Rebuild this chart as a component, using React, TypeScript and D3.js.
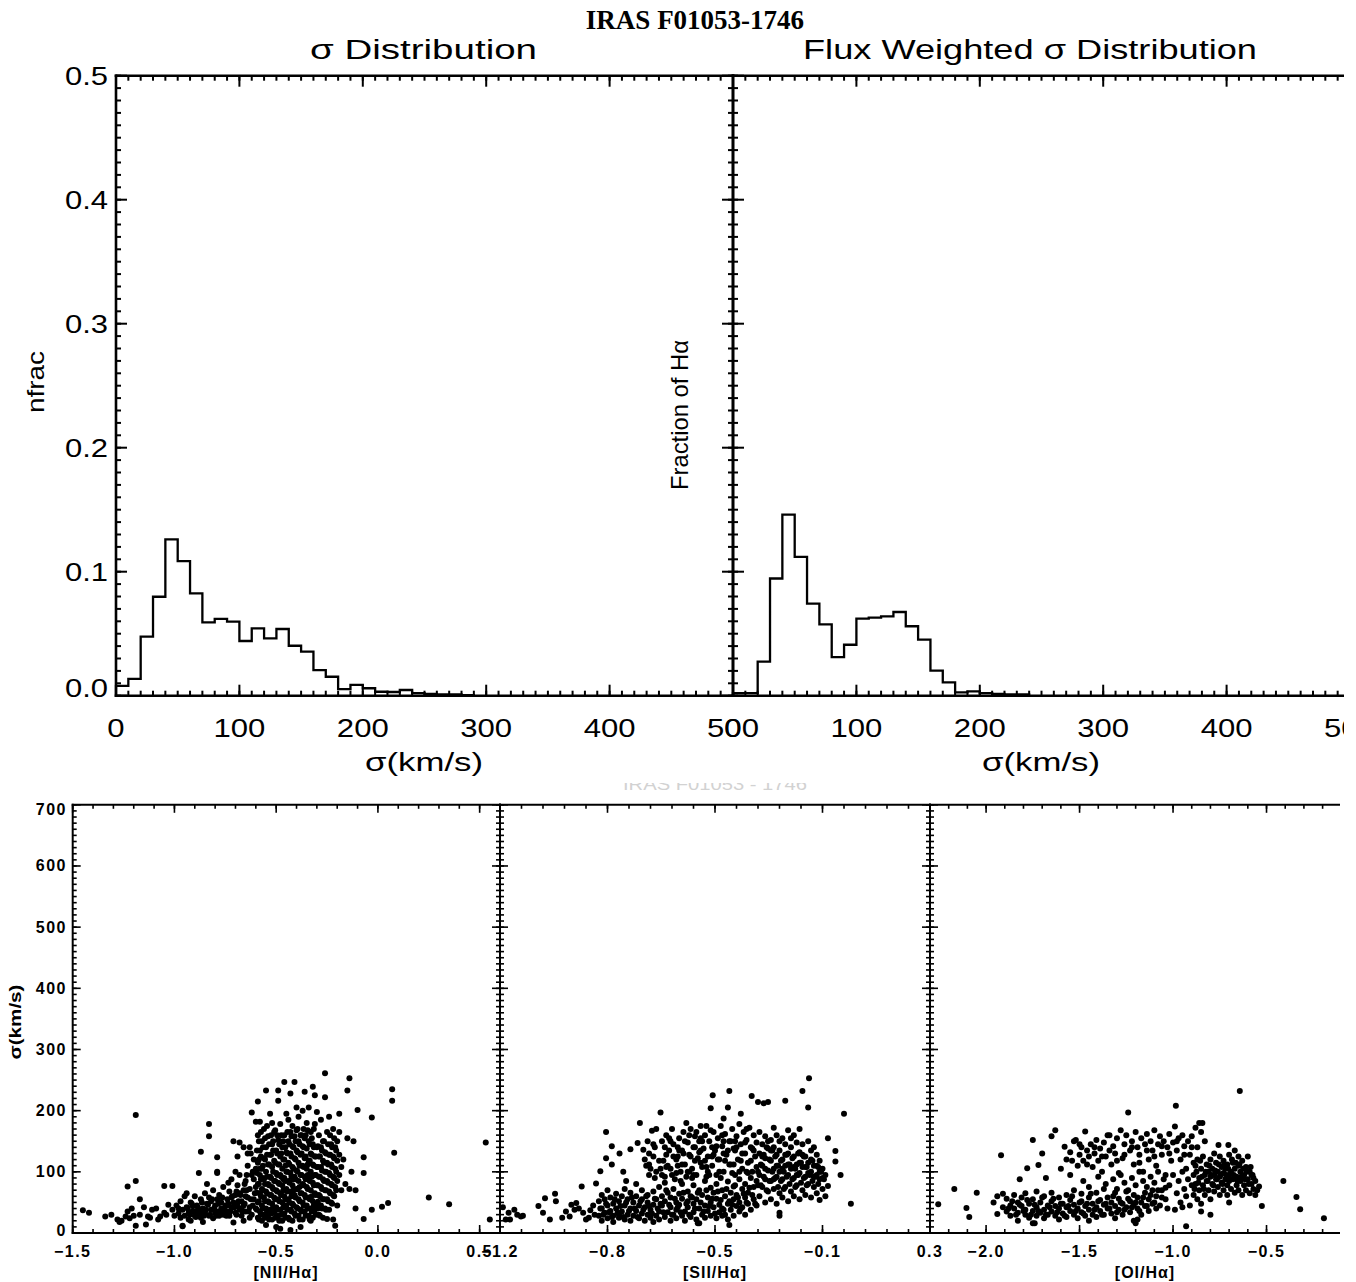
import React from "react";
import * as d3 from "d3";

// ---------------- DATA ----------------
const binWidth = 10; // km/s
const sigmaHist = [0.008, 0.0135, 0.0476, 0.0798, 0.126, 0.1086, 0.0826, 0.0592, 0.0619, 0.0597, 0.0441, 0.0543, 0.0463, 0.0538, 0.0403, 0.0355, 0.0207, 0.0153, 0.0053, 0.0087, 0.006, 0.0032, 0.003, 0.0046, 0.002, 0.0015, 0.001, 0.001, 0.0005];
const fluxHist = [0.002, 0.002, 0.0274, 0.0945, 0.146, 0.112, 0.0743, 0.0575, 0.0311, 0.0411, 0.0621, 0.0629, 0.064, 0.0675, 0.056, 0.0452, 0.0202, 0.0108, 0.0027, 0.0035, 0.002, 0.0015, 0.001, 0.001];
const histXTicks = [0, 100, 200, 300, 400, 500];
const histYTicks = [0, 0.1, 0.2, 0.3, 0.4, 0.5];
const histYTickLabels = ["0.0", "0.1", "0.2", "0.3", "0.4", "0.5"];

const scatterYTicks = [0, 100, 200, 300, 400, 500, 600, 700];
const niiTicks = [-1.5, -1.0, -0.5, 0.0, 0.5];
const niiTickLabels = ["\u22121.5", "\u22121.0", "\u22120.5", "0.0", "0.5"];
const siiTicks = [-1.2, -0.825, -0.45, -0.075, 0.3];
const siiTickLabels = ["\u22121.2", "\u22120.8", "\u22120.5", "\u22120.1", "0.3"];
const oiTicks = [-2.0, -1.5, -1.0, -0.5];
const oiTickLabels = ["\u22122.0", "\u22121.5", "\u22121.0", "\u22120.5"];

const niiPoints: [number, number][] = [
  [-1.45,37],[-1.42,33],[-1.34,27],[-1.31,30],[-1.28,22],[-1.26,20],[-1.24,27],[-1.22,24],[-1.2,28],[-1.19,12],[-1.17,30],[-1.15,42],[-1.14,14],[-1.13,27],[-1.11,38],[-1.09,40],[-1.08,22],[-1.07,27],[-1.05,33],[-1.04,30],[-1.03,46],[-1.01,38],[-1.0,28],[-1.19,193],[-1.19,85],[-1.23,76],[-1.23,35],[-1.17,55],[-1.12,25],[-1.05,77],[-1.27,18],[-1.21,40],
  [-0.99,45],[-0.98,32],[-0.97,25],[-0.97,52],[-0.96,38],[-0.95,28],[-0.95,60],[-0.94,42],[-0.93,33],[-0.93,22],[-0.92,50],[-0.91,36],[-0.9,28],[-0.9,60],[-0.89,45],[-0.88,30],[-0.88,98],[-0.87,55],[-0.87,25],[-0.86,40],[-0.85,65],[-0.85,33],[-0.84,48],[-0.83,28],[-0.83,58],[-0.82,38],[-0.81,70],[-0.81,24],[-0.8,45],[-0.8,33],[-0.79,55],[-0.78,28],[-0.78,62],[-0.77,40],[-0.77,50],[-0.76,30],[-0.76,75],[-0.75,45],[-0.92,20],[-0.86,18],[-0.96,12],[-0.84,80],[-0.79,100],[-0.94,65],[-0.89,35],[-0.82,52],[-0.79,35],[-0.91,44],[-0.87,38],[-0.98,40],[-0.83,178],[-0.87,133],[-0.83,158],[-1.01,77],[-0.96,11],
  [-0.935,40],[-0.925,30],[-0.915,48],[-0.905,35],[-0.895,26],[-0.885,42],[-0.875,33],[-0.865,50],[-0.855,28],[-0.845,38],[-0.835,46],[-0.825,30],[-0.815,55],[-0.805,40],[-0.795,28],[-0.785,48],[-0.775,35],[-0.765,58],[-0.755,38],[-0.745,28],[-0.735,48],[-0.725,35],[-0.715,60],[-0.705,42],[-0.695,30],[-0.685,52],[-0.675,62],[-0.665,35],[-0.655,48],[-0.645,70],[-0.635,35],[-0.625,55],[-0.615,45],[-0.605,65],[-0.655,80],[-0.695,68],[-0.735,82],[-0.615,100],[-0.625,130],[-0.645,95],
  [-0.74,35],[-0.74,55],[-0.73,28],[-0.73,68],[-0.72,42],[-0.72,88],[-0.71,50],[-0.71,17],[-0.71,150],[-0.7,33],[-0.7,62],[-0.69,45],[-0.69,78],[-0.68,38],[-0.68,95],[-0.67,52],[-0.67,28],[-0.66,70],[-0.66,45],[-0.65,35],[-0.65,85],[-0.64,58],[-0.64,110],[-0.63,42],[-0.63,72],[-0.62,30],[-0.62,95],[-0.61,55],[-0.61,120],[-0.6,40],[-0.6,75],[-0.62,197],[-0.63,140],[-0.66,20],[-0.69,125],[-0.72,58],[-0.68,65],[-0.7,48],[-0.65,60],[-0.61,88],[-0.74,45],[-0.67,40],[-0.63,25],[-0.6,105],[-0.64,130],[-0.7,100],[-0.68,148],[-0.66,140],[-0.6,182],[-0.79,98],[-0.79,124],
  [-0.59,25],[-0.59,50],[-0.59,80],[-0.59,115],[-0.59,160],[-0.58,35],[-0.58,65],[-0.58,95],[-0.58,135],[-0.58,182],[-0.57,20],[-0.57,45],[-0.57,72],[-0.57,105],[-0.57,150],[-0.56,30],[-0.56,58],[-0.56,88],[-0.56,122],[-0.56,170],[-0.55,40],[-0.55,68],[-0.55,100],[-0.55,140],[-0.55,13],[-0.54,28],[-0.54,52],[-0.54,80],[-0.54,112],[-0.54,158],[-0.53,38],[-0.53,62],[-0.53,92],[-0.53,128],[-0.53,195],[-0.52,22],[-0.52,48],[-0.52,75],[-0.52,108],[-0.52,145],[-0.51,33],[-0.51,58],[-0.51,85],[-0.51,118],[-0.51,165],[-0.5,42],[-0.5,70],[-0.5,98],[-0.5,135],[-0.5,10],[-0.49,28],[-0.49,55],[-0.49,82],[-0.49,112],[-0.49,152],[-0.48,38],[-0.48,65],[-0.48,95],[-0.48,125],[-0.48,178],[-0.47,20],[-0.47,50],[-0.47,78],[-0.47,105],[-0.47,140],[-0.46,32],[-0.46,60],[-0.46,90],[-0.46,120],[-0.46,160],[-0.45,45],[-0.45,72],[-0.45,100],[-0.45,132],[-0.45,195],
  [-0.575,125],[-0.555,80],[-0.535,145],[-0.515,100],[-0.495,130],[-0.475,160],[-0.455,110],[-0.585,150],[-0.565,90],[-0.545,65],[-0.525,160],[-0.505,55],[-0.485,145],[-0.465,70],[-0.59,215],[-0.55,233],[-0.49,216],[-0.49,233],[-0.46,247],[-0.52,180],[-0.58,105],[-0.48,7],
  [-0.595,38],[-0.595,66],[-0.595,98],[-0.595,135],[-0.585,22],[-0.585,52],[-0.585,80],[-0.585,120],[-0.575,30],[-0.575,60],[-0.575,88],[-0.575,165],[-0.565,40],[-0.565,70],[-0.565,110],[-0.565,140],[-0.555,25],[-0.555,52],[-0.555,120],[-0.555,155],[-0.545,35],[-0.545,92],[-0.545,128],[-0.545,175],[-0.535,22],[-0.535,50],[-0.535,78],[-0.535,112],[-0.525,32],[-0.525,62],[-0.525,90],[-0.525,128],[-0.515,42],[-0.515,72],[-0.515,135],[-0.515,150],[-0.505,25],[-0.505,85],[-0.505,115],[-0.505,168],[-0.495,38],[-0.495,68],[-0.495,95],[-0.495,160],[-0.485,20],[-0.485,52],[-0.485,80],[-0.485,112],[-0.475,30],[-0.475,62],[-0.475,92],[-0.475,130],[-0.465,42],[-0.465,88],[-0.465,120],[-0.465,150],[-0.455,25],[-0.455,55],[-0.455,85],[-0.455,140],
  [-0.445,38],[-0.445,68],[-0.445,130],[-0.445,165],[-0.435,22],[-0.435,50],[-0.435,82],[-0.435,112],[-0.425,35],[-0.425,92],[-0.425,125],[-0.425,158],[-0.415,45],[-0.415,70],[-0.415,105],[-0.415,140],[-0.405,28],[-0.405,58],[-0.405,88],[-0.405,150],[-0.395,40],[-0.395,72],[-0.395,100],[-0.395,132],[-0.385,22],[-0.385,52],[-0.385,110],[-0.385,145],[-0.375,35],[-0.375,65],[-0.375,95],[-0.375,160],[-0.365,45],[-0.365,78],[-0.365,108],[-0.365,140],[-0.355,28],[-0.355,58],[-0.355,88],[-0.355,125],[-0.345,40],[-0.345,72],[-0.345,112],[-0.345,168],[-0.335,22],[-0.335,55],[-0.335,85],[-0.335,118],[-0.325,35],[-0.325,92],[-0.325,128],[-0.325,155],[-0.315,45],[-0.315,78],[-0.315,140],[-0.315,170],[-0.305,30],[-0.305,62],[-0.305,95],[-0.305,125],
  [-0.44,25],[-0.44,55],[-0.44,85],[-0.44,115],[-0.44,150],[-0.44,185],[-0.43,38],[-0.43,68],[-0.43,98],[-0.43,130],[-0.43,165],[-0.43,228],[-0.42,20],[-0.42,48],[-0.42,78],[-0.42,108],[-0.42,142],[-0.42,175],[-0.41,32],[-0.41,62],[-0.41,92],[-0.41,122],[-0.41,158],[-0.41,247],[-0.4,42],[-0.4,72],[-0.4,102],[-0.4,135],[-0.4,168],[-0.4,205],[-0.39,28],[-0.39,55],[-0.39,85],[-0.39,115],[-0.39,150],[-0.39,190],[-0.38,38],[-0.38,65],[-0.38,95],[-0.38,128],[-0.38,160],[-0.38,10],[-0.37,22],[-0.37,50],[-0.37,80],[-0.37,110],[-0.37,142],[-0.37,200],[-0.36,35],[-0.36,62],[-0.36,92],[-0.36,122],[-0.36,155],[-0.36,231],[-0.35,45],[-0.35,75],[-0.35,105],[-0.35,138],[-0.35,180],[-0.34,28],[-0.34,58],[-0.34,88],[-0.34,118],[-0.34,150],[-0.34,205],[-0.33,40],[-0.33,70],[-0.33,100],[-0.33,130],[-0.33,165],[-0.32,25],[-0.32,52],[-0.32,82],[-0.32,112],[-0.32,145],[-0.32,239],[-0.31,38],[-0.31,65],[-0.31,95],[-0.31,125],[-0.31,178],[-0.31,225],[-0.3,48],[-0.3,78],[-0.3,108],[-0.3,140],[-0.3,198],
  [-0.435,145],[-0.415,88],[-0.395,170],[-0.375,130],[-0.355,160],[-0.335,145],[-0.315,110],[-0.425,60],[-0.405,120],[-0.385,75],[-0.365,170],[-0.345,95],[-0.325,60],[-0.445,100],[-0.33,20],[-0.43,5],[-0.295,51],[-0.32,39],
  [-0.295,40],[-0.295,78],[-0.295,108],[-0.295,142],[-0.285,28],[-0.285,60],[-0.285,92],[-0.285,125],[-0.275,40],[-0.275,72],[-0.275,102],[-0.275,135],[-0.265,55],[-0.265,85],[-0.265,115],[-0.265,150],[-0.255,38],[-0.255,70],[-0.255,100],[-0.255,130],[-0.245,52],[-0.245,82],[-0.245,112],[-0.245,145],[-0.235,65],[-0.235,95],[-0.235,128],[-0.235,160],[-0.225,48],[-0.225,78],[-0.225,108],[-0.225,140],[-0.215,60],[-0.215,90],[-0.215,122],[-0.215,155],[-0.205,70],[-0.205,100],[-0.205,135],
  [-0.29,30],[-0.29,62],[-0.29,92],[-0.29,125],[-0.29,160],[-0.28,45],[-0.28,75],[-0.28,108],[-0.28,140],[-0.28,185],[-0.27,25],[-0.27,55],[-0.27,88],[-0.27,118],[-0.27,150],[-0.26,40],[-0.26,70],[-0.26,100],[-0.26,132],[-0.26,261],[-0.26,222],[-0.25,55],[-0.25,85],[-0.25,115],[-0.25,165],[-0.25,23],[-0.24,38],[-0.24,68],[-0.24,98],[-0.24,128],[-0.24,190],[-0.23,50],[-0.23,80],[-0.23,112],[-0.23,145],[-0.22,62],[-0.22,92],[-0.22,125],[-0.22,170],[-0.22,22],[-0.21,75],[-0.21,105],[-0.21,140],[-0.21,12],[-0.2,85],[-0.2,118],[-0.2,150],[-0.2,45],[-0.19,95],[-0.19,128],[-0.19,195],[-0.19,165],[-0.18,108],[-0.18,70],
  [-0.17,120],[-0.16,80],[-0.15,233],[-0.15,155],[-0.14,253],[-0.14,72],[-0.13,100],[-0.12,150],[-0.11,40],[-0.11,70],[-0.1,201],[-0.07,124],[-0.07,98],[-0.07,23],[-0.03,189],[-0.03,38],[0.02,43],[0.05,49],[0.07,235],[0.07,216],[0.08,131],[0.25,58],[0.35,47],[0.53,148],[0.55,22]
];

const siiPoints: [number, number][] = [
  [-1.19,42],[-1.18,22],[-1.17,33],[-1.165,22],[-1.15,38],[-1.14,30],[-1.127,27],[-1.12,28],[-1.066,44],[-1.05,33],[-1.043,57],[-1.026,22],[-1.008,64],[-1.005,52],[-0.983,25],[-0.97,35],[-0.957,27],[-0.951,46],[-0.94,38],[-0.934,49],[-0.925,40],[-0.915,76],[-0.91,33],[-0.9,22],[-0.89,25],[-0.885,37],[-0.875,45],[-0.865,81],[-0.87,30],
  [-0.855,28],[-0.855,52],[-0.845,20],[-0.845,40],[-0.845,62],[-0.835,33],[-0.835,55],[-0.825,24],[-0.825,45],[-0.825,70],[-0.815,36],[-0.815,58],[-0.805,18],[-0.805,28],[-0.805,48],[-0.795,40],[-0.795,64],[-0.785,25],[-0.785,52],[-0.785,30],[-0.775,35],[-0.775,60],[-0.765,22],[-0.765,45],[-0.765,72],[-0.755,30],[-0.755,55],[-0.745,40],[-0.745,20],[-0.745,66],[-0.735,28],[-0.735,50],[-0.725,36],[-0.725,60],[-0.725,80],[-0.715,24],[-0.715,45],[-0.705,32],[-0.705,55],[-0.705,70],[-0.695,20],[-0.695,42],[-0.685,30],[-0.685,62],[-0.685,50],[-0.675,38],[-0.675,25],[-0.665,46],[-0.665,68],[-0.665,18],[-0.655,28],[-0.655,55],[-0.645,35],[-0.645,75],[-0.645,22],[-0.635,45],[-0.635,60],[-0.625,26],[-0.625,52],[-0.625,82],[-0.615,34],[-0.615,66],[-0.605,20],[-0.605,42],[-0.605,58],[-0.595,30],[-0.595,72],[-0.585,38],[-0.585,50],[-0.585,24],[-0.575,46],[-0.575,64],[-0.565,28],[-0.565,56],[-0.565,80],[-0.555,35],[-0.555,20],[-0.545,42],[-0.545,68],[-0.545,52],[-0.535,26],[-0.535,60],[-0.525,34],[-0.525,48],[-0.525,78],[-0.515,22],[-0.515,55],[-0.505,40],[-0.505,70],[-0.505,16],[-0.495,30],[-0.495,62],[-0.485,45],[-0.485,25],[-0.485,85],[-0.475,36],[-0.475,58],[-0.465,28],[-0.465,50],[-0.465,74],[-0.455,42],[-0.455,66],[-0.445,24],[-0.445,56],[-0.445,80],[-0.435,34],[-0.435,46],[-0.425,40],[-0.425,70],[-0.425,28],[-0.415,30],[-0.415,60],[-0.405,48],[-0.405,22],[-0.405,84],[-0.395,38],[-0.395,66],[-0.385,28],[-0.385,55],[-0.385,76],[-0.375,44],[-0.375,62],[-0.365,35],[-0.365,88],[-0.365,50],[-0.355,42],[-0.355,72],[-0.345,30],[-0.345,58],[-0.345,80],[-0.335,48],[-0.335,66],[-0.325,38],[-0.325,90],[-0.315,55],[-0.315,75],[-0.305,45],[-0.305,85],[-0.51,16],[-0.4,13],
  [-0.85,40],[-0.84,30],[-0.83,48],[-0.82,34],[-0.81,26],[-0.8,55],[-0.79,33],[-0.78,44],[-0.77,26],[-0.76,50],[-0.75,36],[-0.74,58],[-0.73,40],[-0.72,26],[-0.71,52],[-0.7,38],[-0.69,60],[-0.68,44],[-0.67,32],[-0.66,56],[-0.65,40],[-0.64,48],[-0.63,34],[-0.62,70],[-0.61,46],[-0.6,30],[-0.59,56],[-0.58,42],[-0.57,34],[-0.56,66],[-0.55,48],[-0.54,30],[-0.53,58],[-0.52,40],[-0.51,66],[-0.5,50],[-0.49,35],[-0.48,70],[-0.47,44],[-0.46,56],[-0.45,32],[-0.44,68],[-0.43,54],[-0.42,38],[-0.41,72],[-0.4,52],[-0.39,46],[-0.38,78],[-0.37,58],[-0.36,40],[-0.35,64],[-0.34,50],[-0.33,74],[-0.32,62],[-0.31,48],[-0.3,78],
  [-0.72,147],[-0.712,180],[-0.7,136],[-0.69,110],[-0.68,95],[-0.67,167],[-0.665,125],[-0.655,100],[-0.64,197],[-0.635,150],[-0.63,118],[-0.625,92],[-0.62,160],[-0.61,135],[-0.605,105],[-0.6,170],[-0.595,145],[-0.59,88],[-0.585,120],[-0.575,155],[-0.57,100],[-0.565,135],[-0.56,165],[-0.555,112],[-0.55,92],[-0.545,148],[-0.54,128],[-0.535,170],[-0.53,105],[-0.525,140],[-0.52,158],[-0.515,95],[-0.51,122],[-0.505,150],[-0.5,175],[-0.495,108],[-0.49,138],[-0.485,160],[-0.48,92],[-0.475,125],[-0.47,150],[-0.465,204],[-0.46,110],[-0.455,165],[-0.45,135],[-0.445,95],[-0.44,155],[-0.435,120],[-0.43,175],[-0.425,142],[-0.42,100],[-0.415,162],[-0.41,128],[-0.405,205],[-0.4,150],[-0.4,232],[-0.395,112],[-0.39,170],[-0.385,138],[-0.38,95],[-0.375,158],[-0.37,120],[-0.365,178],[-0.36,145],[-0.355,105],[-0.35,165],[-0.345,130],[-0.34,152],[-0.335,115],[-0.33,172],[-0.325,140],[-0.322,224],[-0.32,100],[-0.315,160],[-0.31,125],[-0.305,148],[-0.458,225],[-0.42,187],[-0.52,118],[-0.58,140],[-0.48,175],[-0.36,195],[-0.55,180],[-0.61,155],[-0.68,130],[-0.745,137],[-0.783,130],[-0.81,142],[-0.81,112],[-0.83,165],[-0.83,122],[-0.85,101],[-0.77,100],[-0.76,85],
  [-0.68,112],[-0.66,140],[-0.64,105],[-0.62,128],[-0.6,95],[-0.58,110],[-0.56,130],[-0.54,100],[-0.52,140],[-0.5,115],[-0.5,155],[-0.48,108],[-0.46,140],[-0.44,120],[-0.42,150],[-0.4,112],[-0.38,135],[-0.36,118],[-0.34,100],[-0.32,138],[-0.57,85],[-0.53,90],[-0.47,95],[-0.43,90],[-0.39,98],
  [-0.695,120],[-0.685,150],[-0.675,105],[-0.665,145],[-0.655,170],[-0.645,118],[-0.635,95],[-0.625,140],[-0.615,110],[-0.605,150],[-0.595,125],[-0.585,98],[-0.575,135],[-0.565,112],[-0.555,150],[-0.545,100],[-0.535,125],[-0.525,95],[-0.515,165],[-0.505,132],[-0.495,150],[-0.485,118],[-0.475,100],[-0.465,168],[-0.455,128],[-0.445,142],[-0.435,100],[-0.425,160],[-0.415,118],[-0.405,135],[-0.395,150],[-0.385,112],[-0.375,140],[-0.365,100],[-0.355,130],[-0.345,148],[-0.335,98],[-0.325,118],[-0.315,135],[-0.305,108],[-0.66,90],[-0.62,108],[-0.58,125],[-0.54,160],[-0.5,135],[-0.46,125],[-0.42,130],[-0.38,150],[-0.34,170],[-0.3,100],
  [-0.295,60],[-0.295,95],[-0.295,130],[-0.295,165],[-0.285,75],[-0.285,110],[-0.285,145],[-0.275,50],[-0.275,88],[-0.275,122],[-0.275,158],[-0.265,68],[-0.265,102],[-0.265,138],[-0.265,214],[-0.255,55],[-0.255,85],[-0.255,118],[-0.255,152],[-0.245,72],[-0.245,105],[-0.245,140],[-0.245,172],[-0.235,48],[-0.235,92],[-0.235,128],[-0.235,160],[-0.225,65],[-0.225,100],[-0.225,135],[-0.225,33],[-0.215,58],[-0.215,88],[-0.215,120],[-0.215,155],[-0.205,75],[-0.205,110],[-0.205,145],[-0.205,216],[-0.195,52],[-0.195,95],[-0.195,130],[-0.195,168],[-0.185,68],[-0.185,105],[-0.185,140],[-0.175,60],[-0.175,90],[-0.175,125],[-0.175,160],[-0.165,78],[-0.165,112],[-0.165,148],[-0.155,55],[-0.155,98],[-0.155,132],[-0.155,170],[-0.145,70],[-0.145,108],[-0.145,145],[-0.145,232],[-0.135,62],[-0.135,92],[-0.135,125],[-0.125,80],[-0.125,115],[-0.125,150],[-0.125,205],[-0.122,253],[-0.115,58],[-0.115,100],[-0.115,135],[-0.105,75],[-0.105,110],[-0.105,140],[-0.095,65],[-0.095,95],[-0.095,128],[-0.085,54],[-0.085,88],[-0.085,118],[-0.075,72],[-0.075,105],[-0.065,60],[-0.065,95],[-0.056,155],[-0.056,77],[-0.03,134],[-0.03,117],[-0.012,95],[0.0,195],[0.024,48],[-0.225,28],[-0.3,214],[-0.28,212],
  [-0.29,78],[-0.29,112],[-0.28,92],[-0.28,128],[-0.27,70],[-0.27,140],[-0.26,85],[-0.26,120],[-0.25,100],[-0.25,135],[-0.24,90],[-0.24,125],[-0.23,75],[-0.23,110],[-0.22,85],[-0.22,118],[-0.21,100],[-0.21,72],[-0.2,92],[-0.2,128],[-0.19,80],[-0.19,112],[-0.18,88],[-0.18,122],[-0.17,105],[-0.17,75],[-0.16,95],[-0.16,130],[-0.15,82],[-0.15,115],[-0.14,90],[-0.14,125],[-0.13,78],[-0.13,108],[-0.12,95],[-0.11,85],[-0.11,118],[-0.1,92],[-0.09,80],[-0.09,108],[-0.08,100],[-0.07,88],
  [-0.285,125],[-0.275,105],[-0.265,150],[-0.255,135],[-0.245,88],[-0.235,110],[-0.225,150],[-0.215,105],[-0.205,128],[-0.195,112],[-0.185,155],[-0.175,108],[-0.165,95],[-0.155,115],[-0.145,128],[-0.135,108],[-0.125,98],[-0.115,120],[-0.105,92],[-0.095,110],[-0.085,100],[-0.075,90]
];

const oiPoints: [number, number][] = [
  [-2.256,47],[-2.17,72],[-2.105,41],[-2.09,26],[-2.05,66],[-1.92,127],
  [-1.96,50],[-1.94,31],[-1.94,60],[-1.91,64],[-1.91,42],[-1.89,56],[-1.89,35],[-1.87,45],[-1.87,28],[-1.85,40],[-1.85,62],[-1.83,33],[-1.83,50],[-1.83,20],[-1.81,44],[-1.81,58],[-1.79,30],[-1.79,38],[-1.79,65],[-1.77,48],[-1.77,25],[-1.75,36],[-1.75,55],[-1.75,16],[-1.73,42],[-1.73,28],[-1.73,68],[-1.71,50],[-1.71,33],[-1.69,38],[-1.69,60],[-1.69,24],[-1.67,45],[-1.67,30],[-1.65,35],[-1.65,52],[-1.65,66],[-1.63,28],[-1.63,44],[-1.61,40],[-1.61,58],[-1.61,22],[-1.59,32],[-1.59,48],[-1.57,42],[-1.57,26],[-1.57,62],[-1.55,36],[-1.55,54],[-1.53,30],[-1.53,46],[-1.53,70],[-1.51,40],[-1.51,24],[-1.49,34],[-1.49,52],[-1.49,64],[-1.47,44],[-1.47,28],[-1.45,38],[-1.45,58],[-1.45,20],[-1.43,30],[-1.43,48],[-1.41,42],[-1.41,66],[-1.41,26],[-1.39,36],[-1.39,54],[-1.37,46],[-1.37,30],[-1.37,72],[-1.35,40],[-1.35,58],[-1.33,32],[-1.33,50],[-1.31,44],[-1.31,66],[-1.31,24],[-1.29,38],[-1.29,56],[-1.27,48],[-1.27,30],[-1.25,42],[-1.25,68],[-1.23,52],[-1.23,34],[-1.21,46],[-1.21,62],[-1.21,20],[-1.19,40],[-1.19,58],[-1.17,50],[-1.17,30],[-1.15,44],[-1.15,66],[-1.13,55],[-1.13,36],[-1.11,48],[-1.11,70],[-1.09,40],[-1.09,60],
  [-1.88,40],[-1.86,52],[-1.84,30],[-1.82,46],[-1.8,36],[-1.78,54],[-1.76,30],[-1.74,46],[-1.72,36],[-1.7,58],[-1.68,30],[-1.66,42],[-1.64,56],[-1.62,34],[-1.6,48],[-1.58,28],[-1.56,44],[-1.54,60],[-1.52,36],[-1.5,50],[-1.48,32],[-1.46,48],[-1.44,64],[-1.42,38],[-1.4,52],[-1.38,30],[-1.36,48],[-1.34,40],[-1.32,60],[-1.3,34],[-1.28,50],[-1.26,38],[-1.24,56],[-1.22,42],[-1.2,50],[-1.18,36],[-1.16,58],[-1.14,44],[-1.12,62],[-1.1,50],[-1.08,70],[-1.06,58],[-1.04,74],
  [-1.72,111],[-1.68,90],[-1.65,158],[-1.63,168],[-1.6,105],[-1.58,141],[-1.57,120],[-1.55,132],[-1.53,150],[-1.52,152],[-1.51,110],[-1.5,128],[-1.49,140],[-1.48,118],[-1.47,166],[-1.46,135],[-1.45,125],[-1.44,145],[-1.43,108],[-1.42,130],[-1.41,152],[-1.4,118],[-1.39,138],[-1.38,100],[-1.37,148],[-1.36,125],[-1.35,160],[-1.34,160],[-1.33,112],[-1.32,142],[-1.31,130],[-1.3,155],[-1.29,98],[-1.28,168],[-1.27,122],[-1.26,145],[-1.25,160],[-1.24,197],[-1.23,135],[-1.22,150],[-1.21,112],[-1.2,165],[-1.19,140],[-1.18,128],[-1.17,155],[-1.16,100],[-1.15,145],[-1.14,162],[-1.13,120],[-1.12,150],[-1.11,135],[-1.1,168],[-1.09,110],[-1.08,145],[-1.07,158],[-1.06,128],[-1.05,150],[-1.04,95],[-1.03,140],[-1.02,162],[-1.01,118],[-1.0,148],[-0.99,174],[-0.985,208],[-0.98,135],[-0.97,155],[-0.96,120],[-0.95,160],[-0.94,142],[-0.93,105],[-0.92,150],[-0.91,128],[-0.9,158],[-0.89,115],[-0.88,172],[-0.87,140],[-0.86,180],[-0.843,180],[-0.83,150],[-0.85,165],
  [-1.54,118],[-1.5,145],[-1.46,112],[-1.42,140],[-1.38,125],[-1.34,135],[-1.3,118],[-1.26,128],[-1.22,140],[-1.18,115],[-1.14,135],[-1.1,125],[-1.06,142],[-1.02,130],[-0.98,150],[-0.94,128],[-0.9,140],
  [-1.55,95],[-1.48,85],[-1.45,75],[-1.4,92],[-1.36,80],[-1.32,88],[-1.3,72],[-1.28,95],[-1.26,82],[-1.24,70],[-1.22,90],[-1.2,78],[-1.18,100],[-1.16,85],[-1.14,75],[-1.12,92],[-1.1,82],[-1.08,100],[-1.06,70],[-1.05,88],[-1.04,55],[-1.02,78],[-1.0,95],[-0.98,65],[-0.97,85],[-0.96,50],[-0.95,100],[-0.94,72],[-0.93,60],[-0.92,88],[-0.91,45],[-0.9,78],[-1.07,45],[-1.03,40],[-0.99,38],[-0.95,42],[-0.93,11],[-1.2,16],[-1.19,22],[-1.74,16],[-1.82,88],[-1.78,106],[-1.75,152],[-1.7,130],
  [-0.89,62],[-0.89,95],[-0.88,80],[-0.88,110],[-0.87,55],[-0.87,120],[-0.86,90],[-0.86,70],[-0.85,105],[-0.85,48],[-0.84,78],[-0.84,125],[-0.83,95],[-0.83,62],[-0.82,85],[-0.82,112],[-0.81,70],[-0.81,100],[-0.8,92],[-0.8,120],[-0.8,55],[-0.79,80],[-0.79,105],[-0.78,68],[-0.78,95],[-0.78,130],[-0.77,88],[-0.77,115],[-0.76,75],[-0.76,100],[-0.75,92],[-0.75,62],[-0.75,125],[-0.74,82],[-0.74,108],[-0.73,70],[-0.73,98],[-0.73,118],[-0.72,88],[-0.72,105],[-0.71,78],[-0.71,112],[-0.71,62],[-0.7,95],[-0.7,128],[-0.7,85],[-0.69,72],[-0.69,100],[-0.68,88],[-0.68,115],[-0.67,66],[-0.67,105],[-0.67,135],[-0.66,92],[-0.66,78],[-0.65,110],[-0.65,70],[-0.65,125],[-0.64,85],[-0.64,100],[-0.63,62],[-0.63,118],[-0.62,95],[-0.62,78],[-0.61,108],[-0.61,70],[-0.6,88],[-0.6,125],[-0.59,65],[-0.59,100],[-0.58,80],[-0.58,95],[-0.57,72],[-0.57,90],[-0.56,62],[-0.56,85],[-0.55,70],
  [-0.885,72],[-0.875,100],[-0.865,82],[-0.855,118],[-0.845,92],[-0.835,72],[-0.825,100],[-0.815,85],[-0.805,110],[-0.795,95],[-0.785,78],[-0.775,102],[-0.765,88],[-0.755,112],[-0.745,95],[-0.735,80],[-0.725,112],[-0.715,95],[-0.705,105],[-0.695,88],[-0.685,120],[-0.675,95],[-0.665,115],[-0.655,85],[-0.645,112],[-0.635,92],[-0.625,105],[-0.615,88],[-0.605,100],[-0.595,80],[-0.585,108],[-0.575,95],
  [-0.525,44],[-0.54,76],[-0.643,232],[-0.757,144],[-0.704,144],[-0.41,85],[-0.34,59],[-0.32,39],[-0.193,24],[-0.7,50],[-0.85,35],[-0.8,30]
];

// ---------------- LAYOUT (styles / positions) ----------------
const W = 1356;
const H = 1282;
const SANS = "'Liberation Sans', Arial, Helvetica, sans-serif";

type FrameProps = {
  x0: number; x1: number; y0: number; y1: number;
  xMajor: number[]; xMinor: number[]; yMajor: number[]; yMinor: number[];
  majLen: number; minLen: number; sw: number; tsw: number; noRight?: boolean;
};

function Frame(p: FrameProps) {
  const lines: React.ReactNode[] = [];
  let k = 0;
  p.xMinor.forEach((x) => {
    lines.push(<line key={k++} x1={x} x2={x} y1={p.y1} y2={p.y1 - p.minLen} />);
    lines.push(<line key={k++} x1={x} x2={x} y1={p.y0} y2={p.y0 + p.minLen} />);
  });
  p.xMajor.forEach((x) => {
    lines.push(<line key={k++} x1={x} x2={x} y1={p.y1} y2={p.y1 - p.majLen} />);
    lines.push(<line key={k++} x1={x} x2={x} y1={p.y0} y2={p.y0 + p.majLen} />);
  });
  p.yMinor.forEach((y) => {
    lines.push(<line key={k++} x1={p.x0} x2={p.x0 + p.minLen} y1={y} y2={y} />);
    if (!p.noRight) lines.push(<line key={k++} x1={p.x1} x2={p.x1 - p.minLen} y1={y} y2={y} />);
  });
  p.yMajor.forEach((y) => {
    lines.push(<line key={k++} x1={p.x0} x2={p.x0 + p.majLen} y1={y} y2={y} />);
    if (!p.noRight) lines.push(<line key={k++} x1={p.x1} x2={p.x1 - p.majLen} y1={y} y2={y} />);
  });
  return (
    <g stroke="#000" fill="none">
      <g strokeWidth={p.tsw}>{lines}</g>
      <g strokeWidth={p.sw} strokeLinecap="square">
        <line x1={p.x0} x2={p.x1} y1={p.y0} y2={p.y0} />
        <line x1={p.x0} x2={p.x1} y1={p.y1} y2={p.y1} />
        <line x1={p.x0} x2={p.x0} y1={p.y0} y2={p.y1} />
        {!p.noRight && <line x1={p.x1} x2={p.x1} y1={p.y0} y2={p.y1} />}
      </g>
    </g>
  );
}

function histPath(values: number[], x: d3.ScaleLinear<number, number>, y: d3.ScaleLinear<number, number>) {
  const pts: [number, number][] = [[0, 0]];
  values.forEach((v, i) => pts.push([i * binWidth, v]));
  pts.push([values.length * binWidth, values[values.length - 1]]);
  pts.push([values.length * binWidth, 0]);
  const line = d3
    .line<[number, number]>()
    .x((d) => x(d[0]))
    .y((d) => y(d[1]))
    .curve(d3.curveStepAfter);
  return line(pts) || "";
}

// width of a top-panel numeric label (wide vector-font look)
function topLen(s: string) {
  let w = 0;
  for (const c of s) w += c === "." ? 8.5 : 17.3;
  return w;
}

export default function App() {
  // top histograms
  const hTop = 75.7, hBot = 695.7;
  const hy = d3.scaleLinear().domain([0, 0.5]).range([hBot, hTop]);
  const hx1 = d3.scaleLinear().domain([0, 500]).range([116, 733]);
  const hx2 = d3.scaleLinear().domain([0, 500]).range([733, 1350]);
  const hxMinor = d3.range(0, 501, 10);
  const hyMinor = d3.range(0, 51, 1).map((i) => i / 100);

  // bottom scatters
  const sTop = 804.8, sBot = 1233;
  const sy = d3.scaleLinear().domain([0, 700]).range([sBot, sTop]);
  const nx = d3.scaleLinear().domain([-1.5, 0.6]).range([72.7, 500]);
  const sx = d3.scaleLinear().domain([-1.2, 0.3]).range([500, 930]);
  const ox = d3.scaleLinear().domain([-2.3, 0.0]).range([930, 1360]);
  const syMinor = d3.range(0, 701, 10);
  const nxMinor = d3.range(0, 22).map((i) => -1.5 + i * 0.1);
  const sxMinor = d3.range(0, 21).map((i) => -1.2 + i * 0.075);
  const oxMinor = d3.range(0, 24).map((i) => -2.3 + i * 0.1);

  const topLabelStyle: React.CSSProperties = { fontFamily: SANS, fontSize: 26 };
  const botLabelStyle: React.CSSProperties = { fontFamily: SANS, fontSize: 16, fontWeight: 700, letterSpacing: 1.5 };

  const r = 3.0;

  const hFrame = (x: d3.ScaleLinear<number, number>, x0: number, x1: number, noRight = false) => (
    <Frame
      x0={x0} x1={x1} y0={hTop} y1={hBot}
      xMajor={histXTicks.map(x)} xMinor={hxMinor.map(x)}
      yMajor={histYTicks.map(hy)} yMinor={hyMinor.map(hy)}
      majLen={11} minLen={5} sw={2.6} tsw={2} noRight={noRight}
    />
  );

  const sFrame = (x: d3.ScaleLinear<number, number>, x0: number, x1: number, major: number[], minor: number[]) => (
    <Frame
      x0={x0} x1={x1} y0={sTop} y1={sBot}
      xMajor={major.map(x)} xMinor={minor.map(x)}
      yMajor={scatterYTicks.map(sy)} yMinor={syMinor.map(sy)}
      majLen={8} minLen={4} sw={2} tsw={1.6}
    />
  );

  return (
    <svg
      width={W}
      height={H}
      viewBox={`0 0 ${W} ${H}`}
      style={{ position: "absolute", left: 0, top: 0, background: "#fff" }}
    >
      <defs>
        <clipPath id="clipTop"><rect x={0} y={0} width={1344} height={800} /></clipPath>
        <clipPath id="clipBot"><rect x={0} y={795} width={1340} height={490} /></clipPath>
        <clipPath id="clipFaint"><rect x={0} y={783} width={W} height={20} /></clipPath>
      </defs>
      <rect x={0} y={0} width={W} height={H} fill="#fff" />

      {/* Title */}
      <text x={695} y={29} textAnchor="middle" fontFamily="'Liberation Serif', 'Times New Roman', serif" fontWeight={700} fontSize={27}>
        IRAS F01053-1746
      </text>

      {/* faint hidden title */}
      <g clipPath="url(#clipFaint)">
        <text x={623} y={790} fontFamily={SANS} fontSize={17} fill="#d2d2d2" textLength={184} lengthAdjust="spacingAndGlyphs">
          IRAS F01053 - 1746
        </text>
      </g>

      <g clipPath="url(#clipTop)">
        <text x={310} y={59} fontFamily={SANS} fontSize={27} textLength={227} lengthAdjust="spacingAndGlyphs">σ Distribution</text>
        <text x={803} y={59} fontFamily={SANS} fontSize={27} textLength={454} lengthAdjust="spacingAndGlyphs">Flux Weighted σ Distribution</text>

        <path d={histPath(sigmaHist, hx1, hy)} fill="none" stroke="#000" strokeWidth={2.3} />
        <path d={histPath(fluxHist, hx2, hy)} fill="none" stroke="#000" strokeWidth={2.3} />
        {hFrame(hx1, 116, 733)}
        {hFrame(hx2, 733, 1350, true)}

        {/* y tick labels */}
        {histYTicks.map((v, i) => (
          <text key={"hy" + i} x={108} y={hy(v) + (i === 0 ? -8 : 0)} textAnchor="end" dominantBaseline="central" style={topLabelStyle}
            textLength={topLen(histYTickLabels[i])} lengthAdjust="spacingAndGlyphs">
            {histYTickLabels[i]}
          </text>
        ))}
        {histXTicks.map((v, i) => (
          <text key={"hx1" + i} x={hx1(v)} y={737} textAnchor="middle" style={topLabelStyle}
            textLength={topLen(String(v))} lengthAdjust="spacingAndGlyphs">{v}</text>
        ))}
        {histXTicks.map((v, i) => (
          <text key={"hx2" + i} x={hx2(v)} y={737} textAnchor="middle" style={topLabelStyle}
            textLength={topLen(String(v))} lengthAdjust="spacingAndGlyphs">{v}</text>
        ))}
        <text x={365} y={771} fontFamily={SANS} fontSize={26} textLength={118} lengthAdjust="spacingAndGlyphs">σ(km/s)</text>
        <text x={982} y={771} fontFamily={SANS} fontSize={26} textLength={118} lengthAdjust="spacingAndGlyphs">σ(km/s)</text>
        <text transform="translate(44,382) rotate(-90)" textAnchor="middle" fontFamily={SANS} fontSize={24} textLength={62} lengthAdjust="spacingAndGlyphs">nfrac</text>
        <text transform="translate(688,415) rotate(-90)" textAnchor="middle" fontFamily={SANS} fontSize={24} textLength={150} lengthAdjust="spacingAndGlyphs">Fraction of Hα</text>
      </g>

      <g clipPath="url(#clipBot)">
        <g fill="#000">
          {niiPoints.map((d, i) => <circle key={"n" + i} cx={nx(d[0])} cy={sy(d[1])} r={r} />)}
          {siiPoints.map((d, i) => <circle key={"s" + i} cx={sx(d[0])} cy={sy(d[1])} r={r} />)}
          {oiPoints.map((d, i) => <circle key={"o" + i} cx={ox(d[0])} cy={sy(d[1])} r={r} />)}
        </g>
        {sFrame(nx, 72.7, 500, niiTicks, nxMinor)}
        {sFrame(sx, 500, 930, siiTicks, sxMinor)}
        {sFrame(ox, 930, 1360, oiTicks, oxMinor)}

        {scatterYTicks.map((v, i) => (
          <text key={"sy" + i} x={67} y={sy(v) + (i === 0 ? -3 : i === scatterYTicks.length - 1 ? 5 : 0)} textAnchor="end" dominantBaseline="central" style={botLabelStyle}>{v}</text>
        ))}
        {niiTicks.map((v, i) => (
          <text key={"nt" + i} x={nx(v)} y={1257} textAnchor="middle" style={botLabelStyle}>{niiTickLabels[i]}</text>
        ))}
        {siiTicks.map((v, i) => (
          <text key={"st" + i} x={sx(v)} y={1257} textAnchor="middle" style={botLabelStyle}>{siiTickLabels[i]}</text>
        ))}
        {oiTicks.map((v, i) => (
          <text key={"ot" + i} x={ox(v)} y={1257} textAnchor="middle" style={botLabelStyle}>{oiTickLabels[i]}</text>
        ))}
        <text x={286} y={1278} textAnchor="middle" style={{ ...botLabelStyle, letterSpacing: 1 }}>[NII/Hα]</text>
        <text x={715} y={1278} textAnchor="middle" style={{ ...botLabelStyle, letterSpacing: 1 }}>[SII/Hα]</text>
        <text x={1145} y={1278} textAnchor="middle" style={{ ...botLabelStyle, letterSpacing: 1 }}>[OI/Hα]</text>
        <text transform="translate(21,1022) rotate(-90)" textAnchor="middle" style={{ ...botLabelStyle, fontSize: 16, letterSpacing: 0 }} textLength={75} lengthAdjust="spacingAndGlyphs">σ(km/s)</text>
      </g>
    </svg>
  );
}
